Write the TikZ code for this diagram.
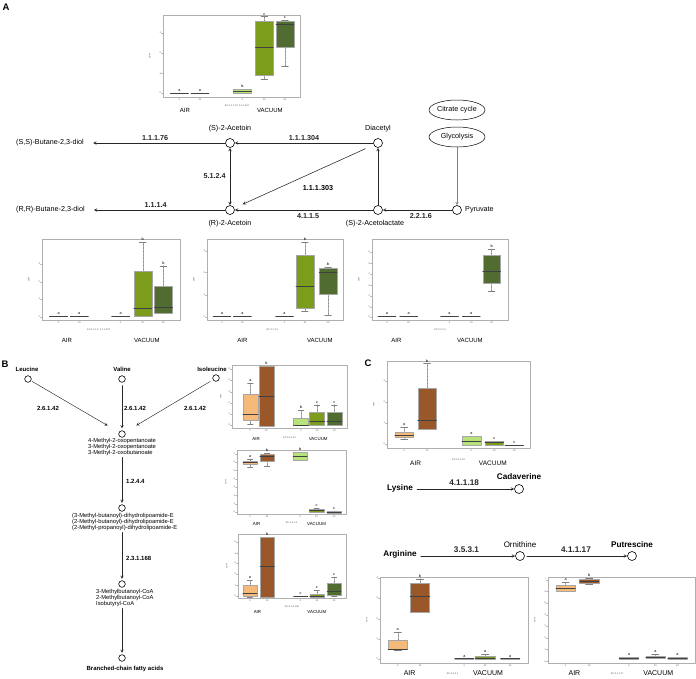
\documentclass[tikz,border=0pt]{standalone}
\usepackage{fontspec}
\setmainfont{Liberation Sans}
\usetikzlibrary{shapes.geometric}
\definecolor{airlt}{RGB}{245,185,122}
\definecolor{airdk}{RGB}{154,88,42}
\definecolor{vaclt}{RGB}{184,226,122}
\definecolor{vacmd}{RGB}{124,156,28}
\definecolor{vacdk}{RGB}{80,108,48}
\definecolor{frmgray}{RGB}{175,175,175}
\begin{document}
\begin{tikzpicture}[x=1pt,y=-1pt,line join=round,line cap=round,>=stealth,
  every node/.style={font=\fontsize{7.2}{8.6}\selectfont,inner sep=1pt},
  cmp/.style={font=\fontsize{#1}{#1}\selectfont},
  ec/.style={font=\fontsize{#1}{#1}\selectfont\bfseries},
  pnl/.style={font=\fontsize{9.5}{10}\selectfont\bfseries},
  met/.style={circle,draw,line width=0.6pt,minimum size=#1,inner sep=0pt},
  met/.default=9pt,
  grpl/.style={font=\fontsize{#1}{#1}\selectfont,inner sep=0pt},
  rxn/.style={->,line width=0.55pt,black!85},
  frm/.style={draw=frmgray,line width=0.6pt},
  whisk/.style={gray,line width=0.4pt,dash pattern=on 0.6pt off 0.8pt},
  bxs/.style={draw=gray!70,line width=0.3pt},
  tck/.style={font=\fontsize{2.4}{2.6}\selectfont,text=gray!70!black,inner sep=0.4pt},
  lett/.style={font=\fontsize{3.8}{4}\selectfont,inner sep=0.3pt}]
\useasboundingbox (0,0) rectangle (696,678);

% panel A
\node[pnl] (pA) at (6,7) {A};
\begin{scope}[shift={(163,97)},x=137pt,y=82pt]
  \draw[frm] (0,0) rectangle (1,1);
  \foreach \t [count=\k from 0] in {0.05,0.29,0.54,0.78}
    \draw[frmgray,line width=0.3pt] (0,\t) -- ++(-1.5pt,0) node[tck,left] {\k};
  \node[tck,rotate=90] (cpmA) at ([xshift=-13pt]0,0.5) {cpm};
  \foreach \p/\lo/\qa/\md/\qb/\hi/\cl/\lt/\xl in {
      0.12/0.05/0.05/0.05/0.05/0.05/airlt/a/0, 0.27/0.05/0.05/0.05/0.05/0.05/airdk/a/10,
      0.58/0.05/0.05/0.07/0.10/0.10/vaclt/b/0, 0.74/0.22/0.27/0.60/0.93/0.98/vacmd/c/10,
      0.89/0.38/0.61/0.88/0.93/0.94/vacdk/c/20}{
    \draw[whisk] (\p,\lo) -- (\p,\qa) (\p,\qb) -- (\p,\hi);
    \draw[gray,line width=0.3pt] (\p-0.025,\lo) -- (\p+0.025,\lo) (\p-0.025,\hi) -- (\p+0.025,\hi);
    \filldraw[bxs,fill=\cl] (\p-0.065,\qa) rectangle (\p+0.065,\qb);
    \draw[line width=0.7pt,black!75] (\p-0.065,\md) -- (\p+0.065,\md);
    \node[lett,above=1pt] at (\p,\hi) {\lt};
    \node[tck,below=1.5pt] at (\p,0) {\xl};
  }
  \node[grpl=6] (airA) at (0.16,-0.16) {AIR};
  \node[grpl=6] (vacA) at (0.78,-0.16) {VACUUM};
  \node[tck] (ecA) at (0.54,-0.11) {EC:1.1.1.76; 1.1.1.304};
\end{scope}

\node[ellipse,draw,line width=0.5pt,minimum width=56pt,minimum height=20pt,inner sep=0pt] (cit) at (457,110) {Citrate cycle};
\node[ellipse,draw,line width=0.5pt,minimum width=56pt,minimum height=20pt,inner sep=0pt] (gly) at (457,137) {Glycolysis};
\node[met] (sac) at (230,143) {};
\node[met] (dia) at (378,143) {};
\node[met] (rac) at (230,210) {};
\node[met] (sal) at (378,210) {};
\node[met] (pyr) at (457,210) {};
\node (tsac) at (230,129) {(S)-2-Acetoin};
\node (tdia) at (378,129) {Diacetyl};
\node (trac) at (230,224) {(R)-2-Acetoin};
\node (tsal) at (375,224) {(S)-2-Acetolactate};
\node[anchor=west] (tpyr) at (464,210) {Pyruvate};
\node[anchor=west] (ssb) at (15,143) {(S,S)-Butane-2,3-diol};
\node[anchor=west] (rrb) at (15,210) {(R,R)-Butane-2,3-diol};
\draw[rxn,shorten >=8pt] (sac) -- (ssb) node[ec=7.2,midway,above=1pt] {1.1.1.76};
\draw[rxn] (dia) -- (sac) node[ec=7.2,midway,above=1pt] {1.1.1.304};
\draw[<->,line width=0.55pt,black!85] (sac) -- (rac) node[ec=7.2,midway,left=3pt] {5.1.2.4};
\draw[rxn,shorten <=9pt,shorten >=9pt] (dia) -- (rac);
\node[ec=7.2] (e303) at (318,188) {1.1.1.303};
\draw[rxn] (sal) -- (dia);
\draw[rxn] (sal) -- (rac) node[ec=7.2,pos=0.47,below=2pt] {4.1.1.5};
\draw[rxn] (pyr) -- (sal) node[ec=7.2,pos=0.45,below=2pt] {2.2.1.6};
\draw[rxn,shorten >=8pt] (rac) -- (rrb) node[ec=7.2,midway,above=1pt] {1.1.1.4};
\draw[->,gray,line width=0.5pt] (gly) -- (pyr);

\begin{scope}[shift={(42,320)},x=138pt,y=81pt]
  \draw[frm] (0,0) rectangle (1,1);
  \foreach \t [count=\k from 0] in {0.04,0.26,0.47,0.69}
    \draw[frmgray,line width=0.3pt] (0,\t) -- ++(-1.5pt,0) node[tck,left] {\k};
  \node[tck,rotate=90] (cpmA1) at ([xshift=-13pt]0,0.5) {cpm};
  \foreach \p/\lo/\qa/\md/\qb/\hi/\cl/\lt/\xl in {
      0.12/0.05/0.05/0.05/0.05/0.05/airlt/a/0, 0.27/0.05/0.05/0.05/0.05/0.05/airdk/a/10,
      0.57/0.05/0.05/0.05/0.05/0.05/vaclt/a/0, 0.73/0.05/0.05/0.15/0.60/0.96/vacmd/b/10,
      0.88/0.08/0.09/0.16/0.42/0.67/vacdk/b/20}{
    \draw[whisk] (\p,\lo) -- (\p,\qa) (\p,\qb) -- (\p,\hi);
    \draw[gray,line width=0.3pt] (\p-0.025,\lo) -- (\p+0.025,\lo) (\p-0.025,\hi) -- (\p+0.025,\hi);
    \filldraw[bxs,fill=\cl] (\p-0.065,\qa) rectangle (\p+0.065,\qb);
    \draw[line width=0.7pt,black!75] (\p-0.065,\md) -- (\p+0.065,\md);
    \node[lett,above=1pt] at (\p,\hi) {\lt};
    \node[tck,below=1.5pt] at (\p,0) {\xl};
  }
  \node[grpl=6] (airA1) at (0.18,-0.25) {AIR};
  \node[grpl=6] (vacA1) at (0.76,-0.25) {VACUUM};
  \node[tck] (ecA1) at (0.41,-0.12) {EC:1.1.1.4; 1.1.1.303};
\end{scope}

\begin{scope}[shift={(207,320)},x=136pt,y=81pt]
  \draw[frm] (0,0) rectangle (1,1);
  \foreach \t [count=\k from 0] in {0.04,0.31,0.59,0.85}
    \draw[frmgray,line width=0.3pt] (0,\t) -- ++(-1.5pt,0) node[tck,left] {\k};
  \node[tck,rotate=90] (cpmA2) at ([xshift=-13pt]0,0.5) {cpm};
  \foreach \p/\lo/\qa/\md/\qb/\hi/\cl/\lt/\xl in {
      0.11/0.05/0.05/0.05/0.05/0.05/airlt/a/0, 0.26/0.05/0.05/0.05/0.05/0.05/airdk/a/10,
      0.57/0.05/0.05/0.05/0.05/0.05/vaclt/a/0, 0.72/0.11/0.15/0.41/0.80/0.96/vacmd/b/10,
      0.89/0.06/0.32/0.59/0.64/0.65/vacdk/b/20}{
    \draw[whisk] (\p,\lo) -- (\p,\qa) (\p,\qb) -- (\p,\hi);
    \draw[gray,line width=0.3pt] (\p-0.025,\lo) -- (\p+0.025,\lo) (\p-0.025,\hi) -- (\p+0.025,\hi);
    \filldraw[bxs,fill=\cl] (\p-0.065,\qa) rectangle (\p+0.065,\qb);
    \draw[line width=0.7pt,black!75] (\p-0.065,\md) -- (\p+0.065,\md);
    \node[lett,above=1pt] at (\p,\hi) {\lt};
    \node[tck,below=1.5pt] at (\p,0) {\xl};
  }
  \node[grpl=6] (airA2) at (0.26,-0.25) {AIR};
  \node[grpl=6] (vacA2) at (0.83,-0.25) {VACUUM};
  \node[tck] (ecA2) at (0.48,-0.12) {EC:4.1.1.5};
\end{scope}

\begin{scope}[shift={(372,320)},x=136pt,y=81pt]
  \draw[frm] (0,0) rectangle (1,1);
  \foreach \t [count=\k from 0] in {0.04,0.16,0.30,0.43,0.57,0.70,0.84}
    \draw[frmgray,line width=0.3pt] (0,\t) -- ++(-1.5pt,0) node[tck,left] {\k};
  \node[tck,rotate=90] (cpmA3) at ([xshift=-13pt]0,0.5) {cpm};
  \foreach \p/\lo/\qa/\md/\qb/\hi/\cl/\lt/\xl in {
      0.11/0.05/0.05/0.05/0.05/0.05/airlt/a/0, 0.27/0.05/0.05/0.05/0.05/0.05/airdk/a/10,
      0.57/0.05/0.05/0.05/0.05/0.05/vaclt/a/0, 0.73/0.05/0.05/0.05/0.05/0.05/vacmd/a/10,
      0.88/0.36/0.46/0.60/0.80/0.88/vacdk/b/20}{
    \draw[whisk] (\p,\lo) -- (\p,\qa) (\p,\qb) -- (\p,\hi);
    \draw[gray,line width=0.3pt] (\p-0.025,\lo) -- (\p+0.025,\lo) (\p-0.025,\hi) -- (\p+0.025,\hi);
    \filldraw[bxs,fill=\cl] (\p-0.065,\qa) rectangle (\p+0.065,\qb);
    \draw[line width=0.7pt,black!75] (\p-0.065,\md) -- (\p+0.065,\md);
    \node[lett,above=1pt] at (\p,\hi) {\lt};
    \node[tck,below=1.5pt] at (\p,0) {\xl};
  }
  \node[grpl=6] (airA3) at (0.18,-0.25) {AIR};
  \node[grpl=6] (vacA3) at (0.72,-0.25) {VACUUM};
  \node[tck] (ecA3) at (0.50,-0.12) {EC:2.2.1.6};
\end{scope}

% panel B
\node[pnl] (pB) at (5,364) {B};
\node[ec=6] (tleu) at (27,369) {Leucine};
\node[ec=6] (tval) at (122,369) {Valine};
\node[ec=6] (tile) at (212,369) {Isoleucine};
\node[met=6.6pt] (leu) at (28,379) {};
\node[met=6.6pt] (val) at (122,379) {};
\node[met=6.6pt] (ile) at (216,378) {};
\node[met=6.6pt] (m1) at (122,434) {};
\node[met=6.6pt] (m2) at (122,508) {};
\node[met=6.6pt] (m3) at (122,584) {};
\node[met=6.6pt] (m4) at (122,658) {};
\node[cmp=5.8,align=left,anchor=north west,inner sep=0pt] (t1) at (88,438)
  {4-Methyl-2-oxopentanoate\\3-Methyl-2-oxopentanoate\\3-Methyl-2-oxobutanoate};
\node[cmp=5.8,align=left,anchor=north west,inner sep=0pt] (t2) at (72,513)
  {(3-Methyl-butanoyl)-dihydrolipoamide-E\\(2-Methyl-butanoyl)-dihydrolipoamide-E\\(2-Methyl-propanoyl)-dihydrolipoamide-E};
\node[cmp=5.8,align=left,anchor=north west,inner sep=0pt] (t3) at (96,589)
  {3-Methylbutanoyl-CoA\\2-Methylbutanoyl-CoA\\Isobutyryl-CoA};
\node[ec=6] (tfa) at (125,669) {Branched-chain fatty acids};
\draw[rxn,line width=0.45pt,shorten <=1pt,shorten >=13pt] (leu) -- (m1);
\draw[rxn,line width=0.45pt,shorten <=3pt,shorten >=2pt] (val) -- (m1);
\draw[rxn,line width=0.45pt,shorten <=3pt,shorten >=13pt] (ile) -- (m1);
\node[ec=6] (e1) at (48,408) {2.6.1.42};
\node[ec=6] (e2) at (135,408) {2.6.1.42};
\node[ec=6] (e3) at (195,408) {2.6.1.42};
\draw[rxn,line width=0.45pt,shorten <=2pt,shorten >=1.5pt] (t1.south -| m2) -- (m2);
\draw[rxn,line width=0.45pt,shorten <=2pt,shorten >=1.5pt] (t2.south -| m3) -- (m3);
\draw[rxn,line width=0.45pt,shorten <=2pt,shorten >=1.5pt] (t3.south -| m4) -- (m4);
\node[ec=6,anchor=west] (e4) at (125,481) {1.2.4.4};
\node[ec=6,anchor=west] (e5) at (125,558) {2.3.1.168};

\begin{scope}[shift={(232,428)},x=115pt,y=63pt]
  \draw[frm] (0,0) rectangle (1,1);
  \foreach \t [count=\k from 0] in {0.05,0.22,0.40,0.57,0.76,0.94}
    \draw[frmgray,line width=0.3pt] (0,\t) -- ++(-1.5pt,0) node[tck,left] {\k};
  \node[tck,rotate=90] (cpmB1) at ([xshift=-11pt]0,0.5) {cpm};
  \foreach \p/\lo/\qa/\md/\qb/\hi/\cl/\lt/\xl in {
      0.16/0.06/0.13/0.22/0.54/0.71/airlt/a/0, 0.30/0.03/0.03/0.51/0.98/0.98/airdk/b/10,
      0.60/0.05/0.05/0.05/0.16/0.29/vaclt/b/0, 0.74/0.05/0.05/0.10/0.25/0.37/vacmd/c/10,
      0.89/0.05/0.05/0.10/0.25/0.37/vacdk/c/20}{
    \draw[whisk] (\p,\lo) -- (\p,\qa) (\p,\qb) -- (\p,\hi);
    \draw[gray,line width=0.3pt] (\p-0.025,\lo) -- (\p+0.025,\lo) (\p-0.025,\hi) -- (\p+0.025,\hi);
    \filldraw[bxs,fill=\cl] (\p-0.065,\qa) rectangle (\p+0.065,\qb);
    \draw[line width=0.7pt,black!75] (\p-0.065,\md) -- (\p+0.065,\md);
    \node[lett,above=1pt] at (\p,\hi) {\lt};
    \node[tck,below=1.5pt] at (\p,0) {\xl};
  }
  \node[grpl=4.4] (airB1) at (0.21,-0.18) {AIR};
  \node[grpl=4.4] (vacB1) at (0.75,-0.18) {VACUUM};
  \node[tck] (ecB1) at (0.50,-0.15) {EC:2.6.1.42};
\end{scope}

\begin{scope}[shift={(237,514)},x=109pt,y=64pt]
  \draw[frm] (0,0) rectangle (1,1);
  \foreach \t [count=\k from 0] in {0.03,0.16,0.29,0.42,0.55,0.68,0.81,0.94}
    \draw[frmgray,line width=0.3pt] (0,\t) -- ++(-1.5pt,0) node[tck,left] {\k};
  \node[tck,rotate=90] (cpmB2) at ([xshift=-11pt]0,0.5) {cpm};
  \foreach \p/\lo/\qa/\md/\qb/\hi/\cl/\lt/\xl in {
      0.12/0.73/0.78/0.80/0.83/0.86/airlt/a/0, 0.275/0.75/0.83/0.90/0.94/0.95/airdk/b/10,
      0.58/0.84/0.84/0.90/0.97/0.97/vaclt/b/0, 0.73/0.03/0.03/0.05/0.08/0.09/vacmd/c/10,
      0.89/0.02/0.02/0.03/0.04/0.05/vacdk/c/20}{
    \draw[whisk] (\p,\lo) -- (\p,\qa) (\p,\qb) -- (\p,\hi);
    \draw[gray,line width=0.3pt] (\p-0.025,\lo) -- (\p+0.025,\lo) (\p-0.025,\hi) -- (\p+0.025,\hi);
    \filldraw[bxs,fill=\cl] (\p-0.065,\qa) rectangle (\p+0.065,\qb);
    \draw[line width=0.7pt,black!75] (\p-0.065,\md) -- (\p+0.065,\md);
    \node[lett,above=1pt] at (\p,\hi) {\lt};
    \node[tck,below=1.5pt] at (\p,0) {\xl};
  }
  \node[grpl=4.4] (airB2) at (0.18,-0.16) {AIR};
  \node[grpl=4.4] (vacB2) at (0.73,-0.16) {VACUUM};
  \node[tck] (ecB2) at (0.50,-0.14) {EC:1.2.4.4};
\end{scope}

\begin{scope}[shift={(238,598)},x=108pt,y=64pt]
  \draw[frm] (0,0) rectangle (1,1);
  \foreach \t [count=\k from 0] in {0.03,0.20,0.375,0.55,0.70,0.875}
    \draw[frmgray,line width=0.3pt] (0,\t) -- ++(-1.5pt,0) node[tck,left] {\k};
  \node[tck,rotate=90] (cpmB3) at ([xshift=-11pt]0,0.5) {cpm};
  \foreach \p/\lo/\qa/\md/\qb/\hi/\cl/\lt/\xl in {
      0.11/0.02/0.03/0.08/0.20/0.28/airlt/a/0, 0.27/0.02/0.02/0.50/0.95/0.95/airdk/b/10,
      0.58/0.03/0.03/0.03/0.03/0.03/vaclt/c/0, 0.73/0.02/0.02/0.03/0.06/0.12/vacmd/c/10,
      0.89/0.03/0.05/0.11/0.23/0.33/vacdk/c/20}{
    \draw[whisk] (\p,\lo) -- (\p,\qa) (\p,\qb) -- (\p,\hi);
    \draw[gray,line width=0.3pt] (\p-0.025,\lo) -- (\p+0.025,\lo) (\p-0.025,\hi) -- (\p+0.025,\hi);
    \filldraw[bxs,fill=\cl] (\p-0.065,\qa) rectangle (\p+0.065,\qb);
    \draw[line width=0.7pt,black!75] (\p-0.065,\md) -- (\p+0.065,\md);
    \node[lett,above=1pt] at (\p,\hi) {\lt};
    \node[tck,below=1.5pt] at (\p,0) {\xl};
  }
  \node[grpl=4.4] (airB3) at (0.18,-0.22) {AIR};
  \node[grpl=4.4] (vacB3) at (0.73,-0.22) {VACUUM};
  \node[tck] (ecB3) at (0.50,-0.14) {EC:2.3.1.168};
\end{scope}

% panel C
\node[pnl] (pC) at (368,363) {C};
\begin{scope}[shift={(387,448)},x=143pt,y=87pt]
  \draw[frm] (0,0) rectangle (1,1);
  \foreach \t [count=\k from 0] in {0.05,0.29,0.53,0.77}
    \draw[frmgray,line width=0.3pt] (0,\t) -- ++(-1.5pt,0) node[tck,left] {\k};
  \node[tck,rotate=90] (cpmC1) at ([xshift=-13pt]0,0.5) {cpm};
  \foreach \p/\lo/\qa/\md/\qb/\hi/\cl/\lt/\xl in {
      0.12/0.10/0.13/0.14/0.18/0.24/airlt/a/0, 0.28/0.22/0.22/0.32/0.69/0.97/airdk/b/10,
      0.59/0.03/0.03/0.08/0.14/0.14/vaclt/a/0, 0.75/0.03/0.03/0.06/0.08/0.08/vacmd/c/10,
      0.89/0.03/0.03/0.03/0.03/0.03/vacdk/c/20}{
    \draw[whisk] (\p,\lo) -- (\p,\qa) (\p,\qb) -- (\p,\hi);
    \draw[gray,line width=0.3pt] (\p-0.025,\lo) -- (\p+0.025,\lo) (\p-0.025,\hi) -- (\p+0.025,\hi);
    \filldraw[bxs,fill=\cl] (\p-0.065,\qa) rectangle (\p+0.065,\qb);
    \draw[line width=0.7pt,black!75] (\p-0.065,\md) -- (\p+0.065,\md);
    \node[lett,above=1pt] at (\p,\hi) {\lt};
    \node[tck,below=1.5pt] at (\p,0) {\xl};
  }
  \node[grpl=6.5] (airC1) at (0.20,-0.18) {AIR};
  \node[grpl=6.5] (vacC1) at (0.74,-0.18) {VACUUM};
  \node[tck] (ecC1) at (0.50,-0.13) {EC:4.1.1.18};
\end{scope}

\node[ec=8.2] (lys) at (400,488) {Lysine};
\node[met] (cad) at (519,489) {};
\node[ec=8.2] (tcad) at (519,477) {Cadaverine};
\draw[rxn,shorten <=3pt] (lys.east |- cad) -- (cad) node[ec=8.2,midway,above=2pt] {4.1.1.18};
\node[ec=8.2] (arg) at (400,554) {Arginine};
\node[met] (orn) at (520,556) {};
\node[cmp=8] (torn) at (520,545) {Ornithine};
\node[met] (put) at (632,556) {};
\node[ec=8.2] (tput) at (632,545) {Putrescine};
\draw[rxn,shorten <=3pt] (arg.east |- orn) -- (orn) node[ec=8.2,midway,above=2pt] {3.5.3.1};
\draw[rxn,shorten <=2pt] (orn) -- (put) node[ec=8.2,midway,above=2pt] {4.1.1.17};

\begin{scope}[shift={(380,663)},x=148pt,y=86pt]
  \draw[frm] (0,0) rectangle (1,1);
  \foreach \t [count=\k from 0] in {0.05,0.28,0.51,0.76,0.99}
    \draw[frmgray,line width=0.3pt] (0,\t) -- ++(-1.5pt,0) node[tck,left] {\k};
  \node[tck,rotate=90] (cpmC2) at ([xshift=-13pt]0,0.5) {cpm};
  \foreach \p/\lo/\qa/\md/\qb/\hi/\cl/\lt/\xl in {
      0.12/0.15/0.16/0.16/0.27/0.36/airlt/a/0, 0.27/0.59/0.59/0.77/0.93/0.98/airdk/b/10,
      0.57/0.05/0.05/0.05/0.05/0.05/vaclt/a/0, 0.71/0.05/0.05/0.06/0.08/0.10/vacmd/a/10,
      0.88/0.05/0.05/0.05/0.05/0.05/vacdk/a/20}{
    \draw[whisk] (\p,\lo) -- (\p,\qa) (\p,\qb) -- (\p,\hi);
    \draw[gray,line width=0.3pt] (\p-0.025,\lo) -- (\p+0.025,\lo) (\p-0.025,\hi) -- (\p+0.025,\hi);
    \filldraw[bxs,fill=\cl] (\p-0.065,\qa) rectangle (\p+0.065,\qb);
    \draw[line width=0.7pt,black!75] (\p-0.065,\md) -- (\p+0.065,\md);
    \node[lett,above=1pt] at (\p,\hi) {\lt};
    \node[tck,below=1.5pt] at (\p,0) {\xl};
  }
  \node[grpl=7] (airC2) at (0.20,-0.12) {AIR};
  \node[grpl=7] (vacC2) at (0.73,-0.12) {VACUUM};
  \node[tck] (ecC2) at (0.49,-0.12) {EC:3.5.3.1};
\end{scope}

\begin{scope}[shift={(548,663)},x=147pt,y=86pt]
  \draw[frm] (0,0) rectangle (1,1);
  \foreach \t [count=\k from 0] in {0.02,0.16,0.29,0.43,0.56,0.70,0.83,0.965}
    \draw[frmgray,line width=0.3pt] (0,\t) -- ++(-1.5pt,0) node[tck,left] {\k};
  \node[tck,rotate=90] (cpmC3) at ([xshift=-13pt]0,0.5) {cpm};
  \foreach \p/\lo/\qa/\md/\qb/\hi/\cl/\lt/\xl in {
      0.12/0.83/0.84/0.87/0.90/0.94/airlt/a/0, 0.28/0.92/0.93/0.95/0.98/0.99/airdk/b/10,
      0.55/0.05/0.05/0.055/0.07/0.07/vaclt/a/0, 0.73/0.06/0.06/0.07/0.08/0.10/vacmd/a/10,
      0.88/0.05/0.05/0.055/0.07/0.07/vacdk/a/20}{
    \draw[whisk] (\p,\lo) -- (\p,\qa) (\p,\qb) -- (\p,\hi);
    \draw[gray,line width=0.3pt] (\p-0.025,\lo) -- (\p+0.025,\lo) (\p-0.025,\hi) -- (\p+0.025,\hi);
    \filldraw[bxs,fill=\cl] (\p-0.065,\qa) rectangle (\p+0.065,\qb);
    \draw[line width=0.7pt,black!75] (\p-0.065,\md) -- (\p+0.065,\md);
    \node[lett,above=1pt] at (\p,\hi) {\lt};
    \node[tck,below=1.5pt] at (\p,0) {\xl};
  }
  \node[grpl=7] (airC3) at (0.18,-0.12) {AIR};
  \node[grpl=7] (vacC3) at (0.75,-0.12) {VACUUM};
  \node[tck] (ecC3) at (0.47,-0.12) {EC:4.1.1.17};
\end{scope}
\end{tikzpicture}
\end{document}
